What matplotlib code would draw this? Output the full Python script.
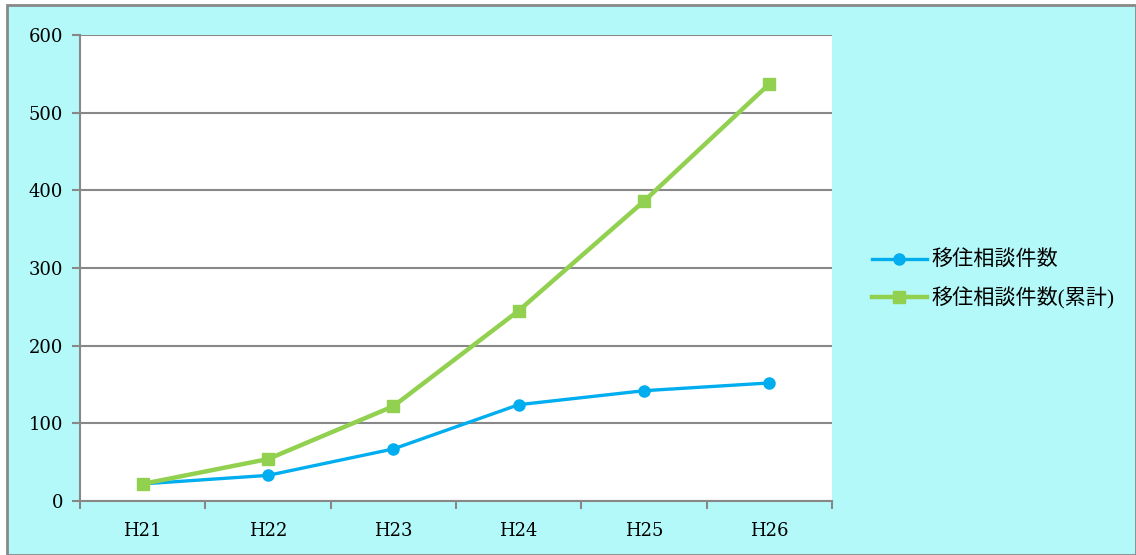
import matplotlib.pyplot as plt
from matplotlib.ticker import FixedLocator, MultipleLocator

# data
years = ['H21', 'H22', 'H23', 'H24', 'H25', 'H26']
consultations = [22, 33, 67, 124, 142, 152]
cumulative = [22, 54, 122, 245, 386, 537]
labels = ['移住相談件数', '移住相談件数(累計)']

BG = '#b4f9f9'
GRAY = '#888888'
BLUE = '#00aeef'
GREEN = '#92d050'

plt.rcParams['font.family'] = ['Liberation Serif', 'Noto Sans CJK JP']

fig = plt.figure(figsize=(11.36, 5.55), dpi=100)
fig.patch.set_facecolor('white')
# cyan chart area with gray border
frame = plt.Rectangle((7 / 1136, 0), 1 - 7 / 1136, 1 - 5 / 555, transform=fig.transFigure,
                      facecolor=BG, edgecolor=GRAY, linewidth=2, zorder=-10)
fig.patches.append(frame)

ax = fig.add_axes([80 / 1136, 1 - 501 / 555, 752 / 1136, 466 / 555])
ax.set_zorder(5)
ax.set_facecolor('white')

x = list(range(len(years)))
ax.plot(x, consultations, color=BLUE, linewidth=2.4, marker='o', markersize=8,
        label=labels[0], zorder=3)
ax.plot(x, cumulative, color=GREEN, linewidth=3.2, marker='s', markersize=8,
        label=labels[1], zorder=4)

ax.set_xlim(-0.5, len(years) - 0.5)
ax.set_ylim(0, 600)
ax.yaxis.set_major_locator(MultipleLocator(100))
ax.yaxis.grid(True, color=GRAY, linewidth=1.5)
ax.set_axisbelow(True)

ax.set_xticks(x)
ax.set_xticklabels(years)
ax.xaxis.set_minor_locator(FixedLocator([i - 0.5 for i in range(len(years) + 1)]))
ax.tick_params(axis='x', which='major', length=0, pad=15)
ax.tick_params(axis='x', which='minor', length=6, width=1.5, color=GRAY, direction='out')
ax.tick_params(axis='y', length=6, width=1.5, color=GRAY, pad=6)
for lbl in ax.get_xticklabels() + ax.get_yticklabels():
    lbl.set_family('DejaVu Serif')
    lbl.set_fontsize(13)

for side in ['top', 'right']:
    ax.spines[side].set_visible(False)
for side in ['left', 'bottom']:
    ax.spines[side].set_color(GRAY)
    ax.spines[side].set_linewidth(1.5)

leg = fig.legend(loc='center left', bbox_to_anchor=(853 / 1136, 1 - 280 / 555),
                 frameon=False, fontsize=15.2, handlelength=2.6, handletextpad=0.2,
                 labelspacing=0.75)
leg.set_zorder(10)

fig.savefig('out.png', dpi=100, facecolor=fig.get_facecolor())
